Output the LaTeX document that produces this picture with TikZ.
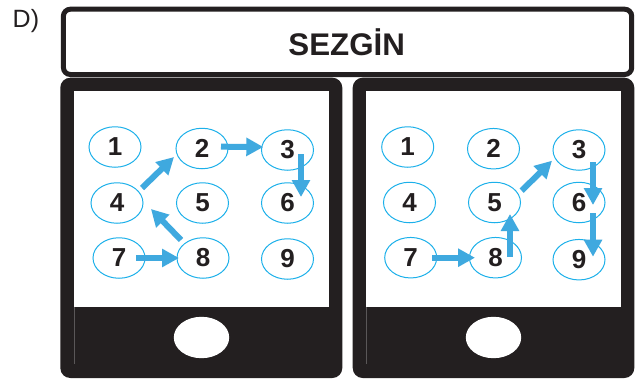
\documentclass[tikz,border=0pt]{standalone}
\usepackage{fontspec}
\setmainfont{Liberation Sans}
\usetikzlibrary{shapes.geometric,arrows.meta}
\definecolor{dark}{HTML}{231F20}
\definecolor{ringblue}{HTML}{1CB0EA}
\definecolor{arrowblue}{HTML}{3FA9DF}
\definecolor{seamgray}{HTML}{5A5758}
\tikzset{
  key/.style={ellipse,draw=ringblue,line width=1pt,fill=white,minimum width=52pt,minimum height=40.5pt,inner sep=0pt,font=\fontsize{26}{26}\selectfont\bfseries,text=dark},
  path arrow/.style={draw=arrowblue,line width=6pt,-{Triangle[length=17pt,width=17.5pt]}},
  phone/.style={draw=none,fill=dark,rounded corners=10pt},
  screen/.style={fill=white,draw=none},
  seam/.style={draw=seamgray,line width=0.4pt},
  homebtn/.style={ellipse,fill=white,draw=none,minimum width=55.4pt,minimum height=41.4pt,inner sep=0pt},
  titlebox/.style={draw=dark,line width=5pt,fill=white,rounded corners=7pt}
}
\begin{document}
\begin{tikzpicture}[x=1pt,y=-1pt]
\useasboundingbox (0,0) rectangle (638,378);
\node[font=\fontsize{25}{25}\selectfont,text=dark,anchor=base west,inner sep=0pt] (opt) at (12.5,27) {D)};
\draw[titlebox] (63.4,9.2) rectangle (631.7,74.5);
\node[font=\fontsize{31.3}{31.3}\selectfont\bfseries,text=dark,anchor=base,inner sep=0pt] (title) at (346.7,55) {SEZGİN};
% left phone
\fill[phone] (60.3,77.7) rectangle (342.3,378);
\fill[screen] (74,91) rectangle (329.3,306.8);
\draw[seam] (74,306.8) -- (74,364);
\node[homebtn] (ha) at (201.5,337.5) {};
\node[key] (a1) at (115,147) {1};
\node[key] (a2) at (202,148.5) {2};
\node[key] (a3) at (287.5,150) {3};
\node[key] (a4) at (117,203) {4};
\node[key] (a5) at (202.5,203) {5};
\node[key] (a6) at (287.5,203) {6};
\node[key] (a7) at (119,258) {7};
\node[key] (a8) at (203,258) {8};
\node[key] (a9) at (287.5,259) {9};
\draw[path arrow] ([shift={(19,-1.8)}]a2.center) -- ([shift={(-24.2,-3)}]a3.center);
\draw[path arrow] ([shift={(13.5,4)}]a3.center) -- ([shift={(13.5,-6)}]a6.center);
\draw[path arrow] ([shift={(25,-15)}]a4.center) -- ([shift={(-28,8.5)}]a2.center);
\draw[path arrow] ([shift={(-22,-18)}]a8.center) -- ([shift={(34,6)}]a4.center);
\draw[path arrow] ([shift={(17,0)}]a7.center) -- ([shift={(-24,0)}]a8.center);
% right phone
\fill[phone] (352.7,77.7) rectangle (634.3,378);
\fill[screen] (366.4,91) rectangle (621,306.8);
\draw[seam] (366.4,306.8) -- (366.4,364);
\node[homebtn] (hb) at (493.5,337.5) {};
\node[key] (b1) at (407.7,147) {1};
\node[key] (b2) at (493.5,148.7) {2};
\node[key] (b3) at (579,150) {3};
\node[key] (b4) at (409.5,202.5) {4};
\node[key] (b5) at (494.5,202.5) {5};
\node[key] (b6) at (579,202.5) {6};
\node[key] (b7) at (410.7,257.7) {7};
\node[key] (b8) at (495.5,257.7) {8};
\node[key] (b9) at (579,259.7) {9};
\draw[path arrow] ([shift={(21.3,0)}]b7.center) -- ([shift={(-20.5,0)}]b8.center);
\draw[path arrow] ([shift={(14.5,-1)}]b8.center) -- ([shift={(15.5,11.5)}]b5.center);
\draw[path arrow] ([shift={(27.2,-11.8)}]b5.center) -- ([shift={(-27,10.7)}]b3.center);
\draw[path arrow] ([shift={(14,12)}]b3.center) -- ([shift={(14,2.5)}]b6.center);
\draw[path arrow] ([shift={(14,10.8)}]b6.center) -- ([shift={(14,-3)}]b9.center);
\end{tikzpicture}
\end{document}
